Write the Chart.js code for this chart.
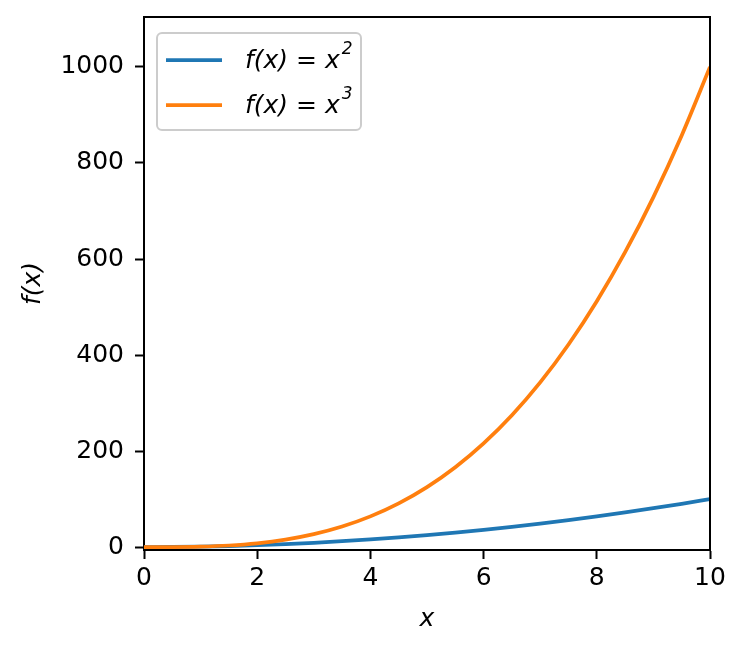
<!DOCTYPE html>
<html>
<head>
<meta charset="utf-8">
<script src="https://cdn.jsdelivr.net/npm/chart.js@4/dist/chart.umd.min.js"></script>
<style>
  body { margin: 0; background: #fff; }
  canvas { display: block; }
</style>
</head>
<body>
<canvas id="powChart" width="746" height="652"></canvas>
<script>
var xValues = [0, 0.5, 1, 1.5, 2, 2.5, 3, 3.5, 4, 4.5, 5, 5.5, 6, 6.5, 7, 7.5, 8, 8.5, 9, 9.5, 10];
var squares = [0, 0.25, 1, 2.25, 4, 6.25, 9, 12.25, 16, 20.25, 25, 30.25, 36, 42.25, 49, 56.25, 64, 72.25, 81, 90.25, 100];
var cubes = [0, 0.125, 1, 3.375, 8, 15.625, 27, 42.875, 64, 91.125, 125, 166.375, 216, 274.625, 343, 421.875, 512, 614.125, 729, 857.375, 1000];
var xTicks = [0, 2, 4, 6, 8, 10];
var yTicks = [0, 200, 400, 600, 800, 1000];
var seriesLabels = ['f(x) = x', 'f(x) = x'];
var seriesPowers = ['2', '3'];

var FONT = "'DejaVu Sans', sans-serif";

function pts(ys) {
  return xValues.map(function (x, i) { return { x: x, y: ys[i] }; });
}

// top and right spines
var framePlugin = {
  id: 'frame',
  afterDraw: function (chart) {
    var a = chart.chartArea, c = chart.ctx;
    c.save();
    c.strokeStyle = '#000';
    c.lineWidth = 2;
    c.beginPath();
    c.moveTo(a.left, a.top);
    c.lineTo(a.right, a.top);
    c.lineTo(a.right, a.bottom);
    c.stroke();
    c.restore();
  }
};

// matplotlib style legend box in upper left
var legendPlugin = {
  id: 'mplLegend',
  afterDraw: function (chart) {
    var c = chart.ctx;
    var x0 = 157, y0 = 33, w = 204, h = 97;
    c.save();
    c.fillStyle = 'rgba(255,255,255,0.8)';
    c.strokeStyle = '#cccccc';
    c.lineWidth = 2;
    c.beginPath();
    c.roundRect(x0, y0, w, h, 5);
    c.fill();
    c.stroke();
    chart.data.datasets.forEach(function (ds, i) {
      var y = 60 + i * 45;
      c.strokeStyle = ds.borderColor;
      c.lineWidth = 3.75;
      c.beginPath();
      c.moveTo(166, y);
      c.lineTo(222, y);
      c.stroke();
      c.fillStyle = '#000';
      c.textBaseline = 'middle';
      c.font = 'italic 25px ' + FONT;
      c.fillText(ds.label, 245, y + 1);
      var tw = c.measureText(ds.label).width;
      c.font = 'italic 17px ' + FONT;
      c.fillText(seriesPowers[i], 245 + tw + 2, y - 10);
    });
    c.restore();
  }
};

var ctx = document.getElementById('powChart').getContext('2d');
var myChart = new Chart(ctx, {
  type: 'line',
  data: {
    datasets: [{
      label: seriesLabels[0],
      data: pts(squares),
      borderColor: '#1f77b4',
      borderWidth: 3.75,
      pointRadius: 0,
      cubicInterpolationMode: 'monotone',
      order: 1
    }, {
      label: seriesLabels[1],
      data: pts(cubes),
      borderColor: '#ff7f0e',
      borderWidth: 3.75,
      pointRadius: 0,
      cubicInterpolationMode: 'monotone',
      order: 0
    }]
  },
  options: {
    responsive: false,
    animation: false,
    devicePixelRatio: 1,
    layout: { padding: { left: 0, top: 17, right: 36, bottom: 0 } },
    plugins: {
      legend: { display: false },
      tooltip: { enabled: false }
    },
    scales: {
      x: {
        type: 'linear',
        min: 0,
        max: 10,
        afterFit: function (s) { s.height = 102; s.paddingLeft = 0; s.paddingRight = 0; },
        afterBuildTicks: function (s) { s.ticks = xTicks.map(function (v) { return { value: v }; }); },
        grid: { drawOnChartArea: false, tickLength: 9, tickWidth: 2, tickColor: '#000' },
        border: { color: '#000', width: 2 },
        ticks: { color: '#000', padding: 4, font: { family: FONT, size: 25 }, maxRotation: 0, callback: function (v) { return String(v); } },
        title: { display: true, text: 'x', color: '#000', font: { family: FONT, size: 25, style: 'italic' }, padding: { top: 0, bottom: 18 } }
      },
      y: {
        min: -6,
        max: 1104,
        afterFit: function (s) { s.width = 144; s.paddingTop = 0; s.paddingBottom = 0; },
        afterBuildTicks: function (s) { s.ticks = yTicks.map(function (v) { return { value: v }; }); },
        grid: { drawOnChartArea: false, tickLength: 9, tickWidth: 2, tickColor: '#000' },
        border: { color: '#000', width: 2 },
        ticks: { color: '#000', padding: 11, font: { family: FONT, size: 25 }, callback: function (v) { return String(v); } },
        title: { display: true, text: 'f(x)', color: '#000', font: { family: FONT, size: 25, style: 'italic' }, padding: { top: 18, bottom: 0 } }
      }
    }
  },
  plugins: [framePlugin, legendPlugin]
});
</script>
</body>
</html>
